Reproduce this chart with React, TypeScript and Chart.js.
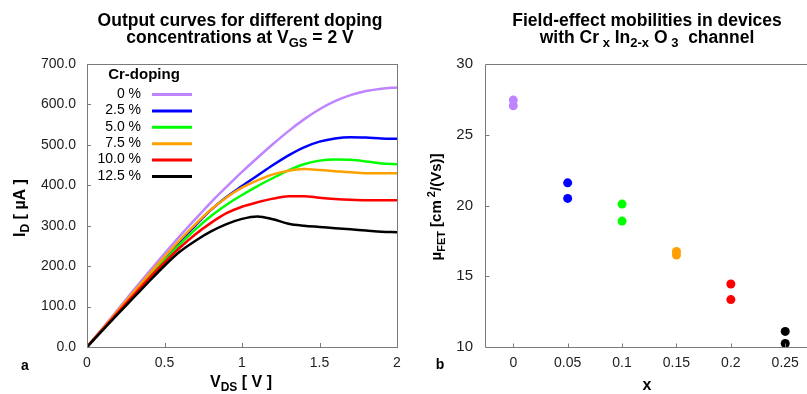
import React, { useEffect, useRef } from 'react';
import { Chart, registerables } from 'chart.js';
Chart.register(...registerables);

const FONT = '"Liberation Sans", Arial, Helvetica, sans-serif';

// ---------- Panel a: output curves ----------
const vds = [0, 0.1, 0.2, 0.3, 0.4, 0.5, 0.6, 0.7, 0.8, 0.9, 1.0, 1.1, 1.2, 1.3, 1.4, 1.5, 1.6, 1.7, 1.8, 1.9, 2.0];
const dopingLabels = ['0 %', '2.5 %', '5.0 %', '7.5 %', '10.0 %', '12.5 %'];
const dopingColors = ['#bf84ff', '#0000ff', '#00ff00', '#ffa000', '#ff0000', '#000000'];
const id0 = [0, 46, 93, 140, 186, 231, 275, 317, 358, 396, 433, 468, 502, 534, 563, 588, 608, 623, 633, 639, 642];
const id25 = [0, 44, 88, 132, 176, 219, 261, 301, 339, 371, 398, 424, 450, 474, 494, 508, 516, 519, 518, 516, 515];
const id50 = [0, 44, 87, 130, 173, 214, 254, 291, 324, 352, 376, 398, 418, 437, 452, 461, 464, 463, 459, 454, 452];
const id75 = [0, 45, 90, 135, 180, 223, 265, 304, 340, 370, 394, 412, 427, 436, 440, 438, 435, 432, 430, 430, 430];
const id100 = [0, 43, 86, 128, 170, 209, 246, 279, 307, 331, 347, 358, 367, 373, 373, 369, 366, 364, 363, 363, 363];
const id125 = [0, 41, 82, 122, 162, 201, 236, 263, 286, 304, 317, 323, 316, 305, 300, 297, 294, 291, 288, 285, 284];
const idSeries = [id0, id25, id50, id75, id100, id125];
const leftXTicks = [0, 0.5, 1, 1.5, 2];
const leftYTicks = [0, 100, 200, 300, 400, 500, 600, 700];

// ---------- Panel b: mobilities ----------
const mobX = [0, 0, 0.05, 0.05, 0.1, 0.1, 0.15, 0.15, 0.2, 0.2, 0.25, 0.25];
const mobY = [27.45, 27.05, 21.6, 20.5, 20.1, 18.9, 16.75, 16.5, 14.45, 13.35, 11.1, 10.25];
const mobColors = ['#bf84ff', '#bf84ff', '#0000ff', '#0000ff', '#00ff00', '#00ff00', '#ffa000', '#ffa000', '#ff0000', '#ff0000', '#000000', '#000000'];
const rightXTicks = [0, 0.05, 0.1, 0.15, 0.2, 0.25];
const rightYTicks = [10, 15, 20, 25, 30];

const LW = 415;
const RX = 415;
const RW = 807 - RX;
const H = 394;

type Part = { t: string; s?: 'sub' | 'sup' };

function drawRich(ctx: CanvasRenderingContext2D, parts: Part[], cx: number, cy: number, size: number, bold: boolean, rotate = false) {
  const w0 = bold ? 'bold ' : '';
  const base = `${w0}${size}px ${FONT}`;
  const small = `${w0}${Math.round(size * 0.72)}px ${FONT}`;
  let w = 0;
  for (const p of parts) {
    ctx.font = p.s ? small : base;
    w += ctx.measureText(p.t).width;
  }
  ctx.save();
  ctx.translate(cx, cy);
  if (rotate) ctx.rotate(-Math.PI / 2);
  ctx.textBaseline = 'middle';
  ctx.textAlign = 'left';
  ctx.fillStyle = '#000';
  let x = -w / 2;
  for (const p of parts) {
    ctx.font = p.s ? small : base;
    const dy = p.s === 'sub' ? size * 0.32 : p.s === 'sup' ? -size * 0.35 : 0;
    ctx.fillText(p.t, x, dy);
    x += ctx.measureText(p.t).width;
  }
  ctx.restore();
}

const leftDecor = {
  id: 'leftDecor',
  afterDraw(chart: any) {
    const ctx: CanvasRenderingContext2D = chart.ctx;
    const a = chart.chartArea;
    const xs = chart.scales.x;
    const ys = chart.scales.y;
    ctx.save();
    ctx.strokeStyle = '#7a7a7a';
    ctx.lineWidth = 1;
    ctx.strokeRect(Math.round(a.left) + 0.5, Math.round(a.top) + 0.5, Math.round(a.right - a.left), Math.round(a.bottom - a.top));
    ctx.beginPath();
    for (const v of leftXTicks.slice(1, -1)) {
      const px = Math.round(xs.getPixelForValue(v)) + 0.5;
      ctx.moveTo(px, a.bottom);
      ctx.lineTo(px, a.bottom - 4);
    }
    for (const v of leftYTicks.slice(1, -1)) {
      const py = Math.round(ys.getPixelForValue(v)) + 0.5;
      ctx.moveTo(a.left, py);
      ctx.lineTo(a.left + 4, py);
    }
    ctx.stroke();

    // legend
    ctx.fillStyle = '#000';
    ctx.font = `bold 15px ${FONT}`;
    ctx.textAlign = 'center';
    ctx.textBaseline = 'middle';
    ctx.fillText('Cr-doping', 144, 75);
    ctx.font = `14px ${FONT}`;
    ctx.textAlign = 'right';
    dopingLabels.forEach((lab, i) => {
      const y = 94 + i * 16.4;
      ctx.fillStyle = '#000';
      ctx.fillText(lab, 141, y);
      ctx.strokeStyle = dopingColors[i];
      ctx.lineWidth = 3;
      ctx.beginPath();
      ctx.moveTo(152, y + 0.5);
      ctx.lineTo(192, y + 0.5);
      ctx.stroke();
    });

    // titles
    drawRich(ctx, [{ t: 'Output curves for different doping' }], 240, 21, 17.5, true);
    drawRich(ctx, [{ t: 'concentrations at V' }, { t: 'GS', s: 'sub' }, { t: ' = 2 V' }], 240, 38, 17.5, true);
    drawRich(ctx, [{ t: 'V' }, { t: 'DS', s: 'sub' }, { t: ' [ V ]' }], 241, 383, 16, true);
    drawRich(ctx, [{ t: 'I' }, { t: 'D', s: 'sub' }, { t: ' [ µA ]' }], 21, 208, 16, true, true);
    ctx.font = `bold 14px ${FONT}`;
    ctx.textAlign = 'center';
    ctx.textBaseline = 'middle';
    ctx.fillStyle = '#000';
    ctx.fillText('a', 25, 366);
    ctx.restore();
  },
};

const rightDecor = {
  id: 'rightDecor',
  afterDraw(chart: any) {
    const ctx: CanvasRenderingContext2D = chart.ctx;
    const a = chart.chartArea;
    const xs = chart.scales.x;
    const ys = chart.scales.y;
    ctx.save();
    ctx.strokeStyle = '#7a7a7a';
    ctx.lineWidth = 1;
    const L = Math.round(a.left) + 0.5;
    const T = Math.round(a.top) + 0.5;
    const B = Math.round(a.bottom) + 0.5;
    ctx.beginPath();
    ctx.moveTo(a.right, T);
    ctx.lineTo(L, T);
    ctx.lineTo(L, B);
    ctx.lineTo(a.right, B);
    for (const v of rightXTicks) {
      const px = Math.round(xs.getPixelForValue(v)) + 0.5;
      ctx.moveTo(px, B);
      ctx.lineTo(px, B - 4);
    }
    for (const v of rightYTicks.slice(1, -1)) {
      const py = Math.round(ys.getPixelForValue(v)) + 0.5;
      ctx.moveTo(L, py);
      ctx.lineTo(L + 4, py);
    }
    ctx.stroke();

    const cx = 647 - RX;
    drawRich(ctx, [{ t: 'Field-effect mobilities in devices' }], cx, 21, 17.5, true);
    drawRich(ctx, [{ t: 'with Cr' }, { t: ' x', s: 'sub' }, { t: ' In' }, { t: '2-x', s: 'sub' }, { t: ' O' }, { t: ' 3', s: 'sub' }, { t: '  channel' }], cx, 38, 17.5, true);
    drawRich(ctx, [{ t: 'x' }], cx, 386, 16, true);
    drawRich(ctx, [{ t: 'µ' }, { t: 'FET', s: 'sub' }, { t: ' [cm' }, { t: ' 2', s: 'sup' }, { t: '/(Vs)]' }], 437 - RX, 207, 15, true, true);
    ctx.font = `bold 14px ${FONT}`;
    ctx.textAlign = 'center';
    ctx.textBaseline = 'middle';
    ctx.fillStyle = '#000';
    ctx.fillText('b', 440 - RX, 365);
    ctx.restore();
  },
};

function tickFont(size: number) {
  return { family: FONT, size };
}

export default function App() {
  const leftRef = useRef<HTMLCanvasElement>(null);
  const rightRef = useRef<HTMLCanvasElement>(null);

  useEffect(() => {
    const left = new Chart(leftRef.current as HTMLCanvasElement, {
      type: 'line',
      data: {
        datasets: idSeries.map((ys, i) => ({
          label: dopingLabels[i],
          data: vds.map((x, j) => ({ x, y: ys[j] })),
          borderColor: dopingColors[i],
          backgroundColor: dopingColors[i],
          borderWidth: 2.5,
          pointRadius: 0,
          cubicInterpolationMode: 'monotone',
          fill: false,
          order: idSeries.length - i,
        })),
      },
      options: {
        responsive: false,
        animation: false,
        events: [],
        layout: { autoPadding: false, padding: { left: 0, top: 64, right: LW - 397, bottom: 0 } },
        plugins: { legend: { display: false }, title: { display: false }, tooltip: { enabled: false } },
        scales: {
          x: {
            type: 'linear', min: 0, max: 2,
            grid: { display: false, drawTicks: false }, border: { display: false },
            afterBuildTicks: (s: any) => { s.ticks = leftXTicks.map((v) => ({ value: v })); },
            afterFit: (s: any) => { s.height = 47; s.paddingLeft = 0; s.paddingRight = 0; },
            ticks: { padding: 8, color: '#222', font: tickFont(14), maxRotation: 0, autoSkip: false, callback: (v: any) => String(v) },
          },
          y: {
            type: 'linear', min: 0, max: 700,
            grid: { display: false, drawTicks: false }, border: { display: false },
            afterBuildTicks: (s: any) => { s.ticks = leftYTicks.map((v) => ({ value: v })); },
            afterFit: (s: any) => { s.width = 87; s.paddingTop = 0; s.paddingBottom = 0; },
            ticks: { padding: 11, color: '#222', font: tickFont(14), autoSkip: false, callback: (v: any) => Number(v).toFixed(1) },
          },
        },
      } as any,
      plugins: [leftDecor],
    });

    const right = new Chart(rightRef.current as HTMLCanvasElement, {
      type: 'scatter',
      data: {
        datasets: [{
          data: mobX.map((x, i) => ({ x, y: mobY[i] })),
          backgroundColor: mobColors,
          borderWidth: 0,
          pointRadius: 4.5,
          clip: false,
        } as any],
      },
      options: {
        responsive: false,
        animation: false,
        events: [],
        layout: { autoPadding: false, padding: { left: 0, top: 64, right: 0, bottom: 0 } },
        plugins: { legend: { display: false }, title: { display: false }, tooltip: { enabled: false } },
        scales: {
          x: {
            type: 'linear', min: -0.026, max: 0.27,
            grid: { display: false, drawTicks: false }, border: { display: false },
            afterBuildTicks: (s: any) => { s.ticks = rightXTicks.map((v) => ({ value: v })); },
            afterFit: (s: any) => { s.height = 47; s.paddingLeft = 0; s.paddingRight = 0; },
            ticks: { padding: 8, color: '#222', font: tickFont(14), maxRotation: 0, autoSkip: false, callback: (v: any) => String(v) },
          },
          y: {
            type: 'linear', min: 10, max: 30,
            grid: { display: false, drawTicks: false }, border: { display: false },
            afterBuildTicks: (s: any) => { s.ticks = rightYTicks.map((v) => ({ value: v })); },
            afterFit: (s: any) => { s.width = 485 - RX; s.paddingTop = 0; s.paddingBottom = 0; },
            ticks: { padding: 12, color: '#222', font: tickFont(15), autoSkip: false, callback: (v: any) => String(v) },
          },
        },
      } as any,
      plugins: [rightDecor],
    });

    return () => {
      left.destroy();
      right.destroy();
    };
  }, []);

  return (
    <div style={{ position: 'fixed', left: 0, top: 0, width: 807, height: H, background: '#fff', overflow: 'hidden' }}>
      <canvas ref={leftRef} width={LW} height={H} style={{ position: 'absolute', left: 0, top: 0, width: LW, height: H }} />
      <canvas ref={rightRef} width={RW} height={H} style={{ position: 'absolute', left: RX, top: 0, width: RW, height: H }} />
    </div>
  );
}
